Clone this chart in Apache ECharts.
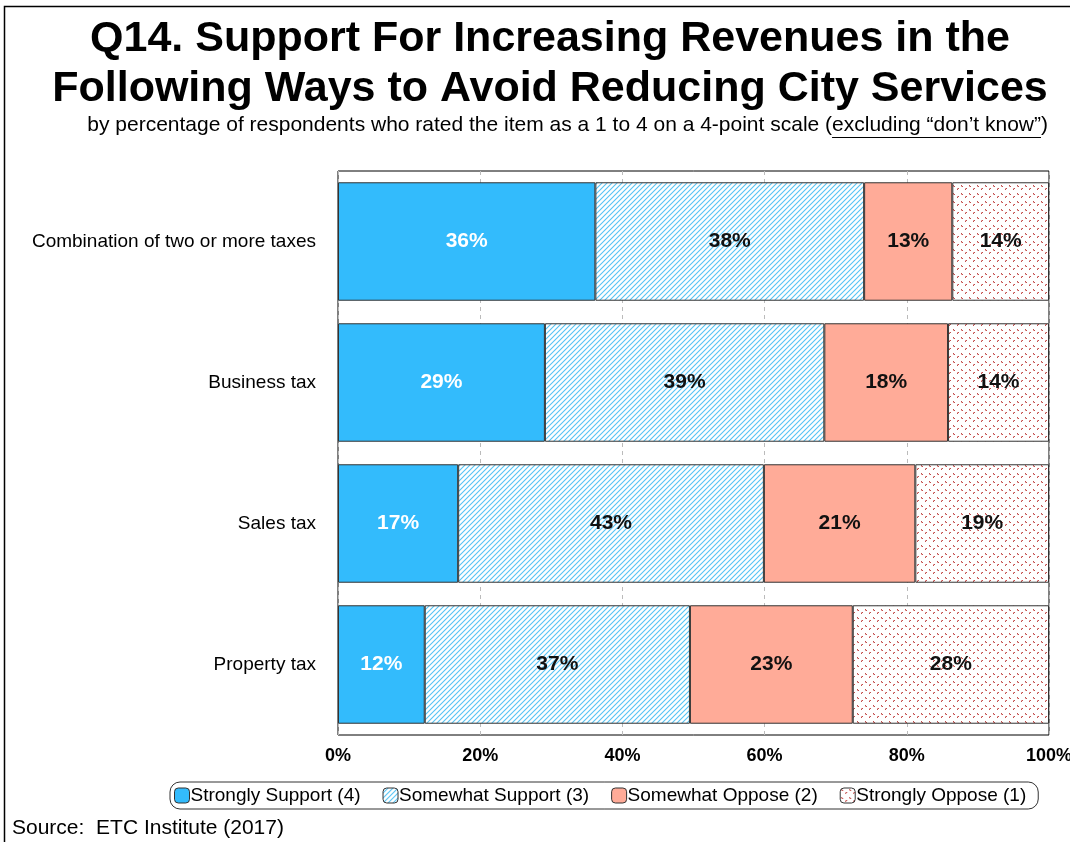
<!DOCTYPE html>
<html>
<head>
<meta charset="utf-8">
<script src="https://cdn.jsdelivr.net/npm/echarts@6/dist/echarts.min.js"></script>
<style>
  html, body { margin: 0; padding: 0; background: #fff; }
  #main { width: 1070px; height: 842px; }
</style>
</head>
<body>
<div id="main"></div>
<script>
// categories top to bottom
var categories = ['Combination of two or more taxes', 'Business tax', 'Sales tax', 'Property tax']
var seriesNames = ['Strongly Support (4)', 'Somewhat Support (3)', 'Somewhat Oppose (2)', 'Strongly Oppose (1)']
// bar lengths
var stronglySupport = [36.2, 29.1, 16.9, 12.2]
var somewhatSupport = [37.8, 39.3, 43.0, 37.3]
var somewhatOppose = [12.4, 17.4, 21.3, 22.9]
var stronglyOppose = [13.6, 14.2, 18.8, 27.6]
// printed labels
var stronglySupportLbl = [36, 29, 17, 12]
var somewhatSupportLbl = [38, 39, 43, 37]
var somewhatOpposeLbl = [13, 18, 21, 23]
var stronglyOpposeLbl = [14, 14, 19, 28]
var xTicks = [0, 20, 40, 60, 80, 100]

var font = 'Liberation Sans, Arial, sans-serif'
var subText = 'by percentage of respondents who rated the item as a 1 to 4 on a 4-point scale (excluding “don’t know”)'
var subUnder = 'excluding “don’t know”'
var subSize = 21
var subRight = 1048

// hatched fill (somewhat support)
function makeHatch() {
  var c = document.createElement('canvas')
  c.width = 5; c.height = 5
  var ctx = c.getContext('2d')
  ctx.fillStyle = '#ffffff'
  ctx.fillRect(0, 0, 5, 5)
  ctx.strokeStyle = '#55c4f5'
  ctx.lineWidth = 1.1
  ctx.beginPath()
  ctx.moveTo(-1, 6); ctx.lineTo(6, -1)
  ctx.moveTo(-1, 1); ctx.lineTo(1, -1)
  ctx.moveTo(4, 6); ctx.lineTo(6, 4)
  ctx.stroke()
  return c
}
// dotted fill (strongly oppose)
function makeDots() {
  var c = document.createElement('canvas')
  c.width = 8; c.height = 8
  var ctx = c.getContext('2d')
  ctx.fillStyle = '#ffffff'
  ctx.fillRect(0, 0, 8, 8)
  ctx.fillStyle = '#c0504d'
  ctx.fillRect(1, 1, 1, 1)
  ctx.fillRect(2, 2, 1, 1)
  ctx.fillRect(5, 5, 1, 1)
  ctx.fillRect(6, 4, 1, 1)
  ctx.fillStyle = '#e8a0a0'
  ctx.fillRect(1, 2, 1, 1)
  ctx.fillRect(5, 4, 1, 1)
  return c
}

// where the underline of the subtitle goes
function measure(txt) {
  var c = document.createElement('canvas').getContext('2d')
  c.font = subSize + 'px ' + font
  return c.measureText(txt).width
}
var closeW = measure(')')
var underW = measure(subUnder)
var underX2 = subRight - closeW
var underX1 = underX2 - underW

var fills = [
  '#33bbfc',
  { image: makeHatch(), repeat: 'repeat' },
  '#ffab98',
  { image: makeDots(), repeat: 'repeat' }
]
var values = [stronglySupport, somewhatSupport, somewhatOppose, stronglyOppose]
var labels = [stronglySupportLbl, somewhatSupportLbl, somewhatOpposeLbl, stronglyOpposeLbl]

var chart = echarts.init(document.getElementById('main'))

var series = []
for (var i = 0; i < 4; i++) {
  (function(k) {
    series.push({
      name: seriesNames[k],
      type: 'bar',
      stack: 'all',
      barWidth: '84%',
      data: values[k],
      itemStyle: { color: fills[k], borderColor: '#333', borderWidth: 1 },
      label: {
        show: true,
        position: 'inside',
        fontFamily: font,
        fontWeight: 'bold',
        fontSize: 21,
        color: k === 0 ? '#fff' : '#111',
        formatter: function(p) { return labels[k][p.dataIndex] + '%' }
      },
      emphasis: { disabled: true }
    })
  })(i)
}

var option = {
  animation: false,
  backgroundColor: '#fff',
  textStyle: { fontFamily: font },
  title: [{
    text: 'Q14. Support For Increasing Revenues in the\nFollowing Ways to Avoid Reducing City Services',
    left: 550,
    textAlign: 'center',
    top: 14,
    padding: 0,
    textStyle: { fontFamily: font, fontWeight: 'bold', fontSize: 43, lineHeight: 50, color: '#000' }
  }, {
    text: subText,
    right: 1070 - subRight,
    top: 115,
    padding: 0,
    textStyle: { fontFamily: font, fontWeight: 'normal', fontSize: subSize, color: '#000' }
  }, {
    text: 'Source:  ETC Institute (2017)',
    left: 12,
    top: 818,
    padding: 0,
    textStyle: { fontFamily: font, fontWeight: 'normal', fontSize: 21, color: '#000' }
  }],
  graphic: [{
    type: 'rect',
    shape: { x: 4.5, y: 6.5, width: 1080, height: 850 },
    style: { fill: 'none', stroke: '#000', lineWidth: 1.5 },
    silent: true
  }, {
    type: 'line',
    shape: { x1: underX1, y1: 137.5, x2: underX2, y2: 137.5 },
    style: { stroke: '#000', lineWidth: 1 },
    silent: true
  }],
  legend: {
    data: seriesNames,
    left: 170,
    top: 782,
    padding: [4, 12, 4, 4],
    itemGap: 22,
    itemWidth: 15,
    itemHeight: 15,
    borderColor: '#333',
    borderWidth: 1,
    borderRadius: 10,
    textStyle: { fontFamily: font, fontSize: 19, color: '#000', padding: [0, 0, 0, -4] },
    selectedMode: false,
    itemStyle: { borderColor: '#333', borderWidth: 1 }
  },
  grid: {
    left: 338,
    right: 21,
    top: 171,
    bottom: 107,
    outerBoundsMode: 'none',
    show: true,
    borderColor: '#000',
    borderWidth: 1,
    backgroundColor: 'transparent'
  },
  xAxis: {
    type: 'value',
    min: xTicks[0],
    max: xTicks[xTicks.length - 1],
    interval: 20,
    axisLine: { show: false },
    axisTick: { show: false },
    splitLine: { show: true, lineStyle: { color: '#bbb', type: [4, 4] } },
    axisLabel: {
      fontFamily: font,
      fontWeight: 'bold',
      fontSize: 18,
      color: '#000',
      margin: 12,
      formatter: '{value}%'
    }
  },
  yAxis: {
    type: 'category',
    inverse: true,
    data: categories,
    axisLine: { show: false },
    axisTick: { show: false },
    axisLabel: { fontFamily: font, fontSize: 19, color: '#000', margin: 22 }
  },
  series: series
}

chart.setOption(option)
</script>
</body>
</html>
